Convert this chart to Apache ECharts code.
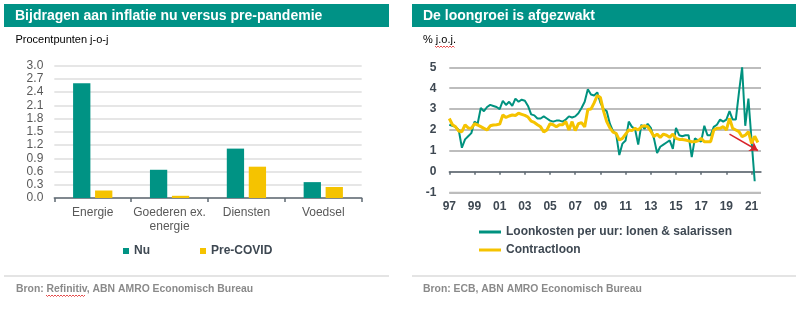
<!DOCTYPE html>
<html>
<head>
<meta charset="utf-8">
<script src="https://cdn.jsdelivr.net/npm/echarts@6/dist/echarts.min.js"></script>
<style>
  html, body { margin: 0; padding: 0; background: #ffffff; }
  #chart { width: 804px; height: 324px; }
</style>
</head>
<body>
<div id="chart"></div>
<script>
// ---- Left panel: contributions to inflation, now vs pre-pandemic ----
const categories = ['Energie', 'Goederen ex.\nenergie', 'Diensten', 'Voedsel'];
const nuValues = [2.6, 0.64, 1.12, 0.36];
const preCovidValues = [0.17, 0.05, 0.71, 0.25];

// ---- Right panel: wage growth, % y-o-y, quarterly from 1997 ----
const firstYear = 1997;
const lastYear = 2021;
const yearLabels = ['97', '99', '01', '03', '05', '07', '09', '11', '13', '15', '17', '19', '21'];
const wageAxisMin = -1;
const wageAxisMax = 5;

const loonkosten = [
  2.25, 2.2, 2.15, 2.0,     // 1997
  1.15, 1.55, 1.7, 1.85,    // 1998
  2.4, 2.3, 3.05, 2.9,      // 1999
  3.1, 3.2, 3.15, 3.1,      // 2000
  3.0, 3.4, 3.2, 3.35,      // 2001
  3.15, 3.5, 3.35, 3.45,    // 2002
  3.4, 3.15, 2.75, 2.7,     // 2003
  2.55, 2.55, 2.65, 2.55,   // 2004
  2.45, 2.4, 2.45, 2.45,    // 2005
  2.4, 2.5, 2.65, 2.6,      // 2006
  2.65, 2.8, 3.05, 3.35,    // 2007
  3.95, 3.7, 3.65, 3.8,     // 2008
  3.3, 3.0, 2.9, 2.3,       // 2009
  1.95, 1.8, 0.8, 1.35,     // 2010
  1.5, 2.4, 2.15, 2.05,     // 2011
  1.3, 2.25, 2.05, 2.3,     // 2012
  2.1, 1.6, 0.9, 1.2,       // 2013
  1.3, 1.4, 1.5, 1.1,       // 2014
  2.1, 1.75, 1.7, 1.75,     // 2015
  1.75, 0.7, 1.6, 1.5,      // 2016
  1.45, 2.2, 1.75, 1.75,    // 2017
  2.15, 2.25, 2.5, 2.4,     // 2018
  2.5, 2.9, 2.5, 2.5,       // 2019
  3.8, 5.0, 2.2, 3.5,       // 2020
  1.5, -0.45                // 2021
];

const contractloon = [
  2.55, 2.25, 2.15, 1.95,   // 1997
  1.92, 2.25, 2.1, 2.08,    // 1998
  2.3, 2.24, 2.16, 2.08,    // 1999
  2.0, 2.2, 2.24, 2.25,     // 2000
  2.28, 2.72, 2.6, 2.67,    // 2001
  2.72, 2.69, 2.8, 2.75,    // 2002
  2.7, 2.62, 2.42, 2.36,    // 2003
  2.25, 2.15, 1.9, 2.0,     // 2004
  2.3, 2.25, 2.15, 2.25,    // 2005
  2.25, 2.4, 2.0, 2.4,      // 2006
  1.97, 2.3, 2.35, 2.15,    // 2007
  2.98, 3.0, 3.3, 3.65,     // 2008
  3.55, 2.9, 2.4, 2.1,      // 2009
  1.9, 1.84, 1.52, 1.6,     // 2010
  1.8, 2.0, 1.97, 2.08,     // 2011
  2.0, 2.16, 2.2, 2.16,     // 2012
  1.95, 1.68, 1.8, 1.65,    // 2013
  1.8, 1.75, 1.65, 1.8,     // 2014
  1.6, 1.55, 1.55, 1.52,    // 2015
  1.48, 1.44, 1.44, 1.48,   // 2016
  1.6, 1.44, 1.44, 1.44,    // 2017
  2.0, 2.08, 2.08, 2.16,    // 2018
  2.0, 2.56, 2.08, 2.0,     // 2019
  1.92, 1.68, 1.75, 1.92,   // 2020
  1.36, 1.7, 1.4            // 2021
];

// quarter categories 1997K1 ... 2021K4
const quarters = [];
for (let y = firstYear; y <= lastYear; y++) {
  for (let q = 1; q <= 4; q++) quarters.push(y + 'K' + q);
}

const FONT = 'Liberation Sans, Arial, sans-serif';
const GREEN = '#00927F';
const YELLOW = '#F5C300';
const BAR_GREEN = '#009384';
const DARK_TEXT = '#3E4852';
const GRID_GREY = '#bdbdbd';

// plot areas of the two panels
const barGrid = { left: 54.3, right: 442.3, top: 65.7, bottom: 126 };
const wageGrid = { left: 449.3, right: 43, top: 67.3, bottom: 131.3 };

// small wavy underline (spell-check style) drawn as a polyline
function squiggle(x0, x1, y) {
  const pts = [];
  let up = true;
  for (let x = x0; x <= x1; x += 1.5) {
    pts.push([x, up ? y : y + 1.5]);
    up = !up;
  }
  return {
    type: 'polyline',
    silent: true,
    shape: { points: pts },
    style: { stroke: '#e02020', lineWidth: 0.8, fill: null }
  };
}

const chart = echarts.init(document.getElementById('chart'));
const W = chart.getWidth();
const H = chart.getHeight();

chart.setOption({
  animation: false,
  backgroundColor: '#ffffff',
  textStyle: { fontFamily: FONT },
  graphic: [
    { type: 'rect', silent: true, shape: { x: 4, y: 4, width: 385, height: 23 }, style: { fill: '#009286' } },
    { type: 'rect', silent: true, shape: { x: 412, y: 4, width: 384, height: 23 }, style: { fill: '#009286' } },
    { type: 'line', silent: true, shape: { x1: 4, y1: 276, x2: 389, y2: 276 }, style: { stroke: '#c9c9c9', lineWidth: 1 } },
    { type: 'line', silent: true, shape: { x1: 412, y1: 276, x2: 796, y2: 276 }, style: { stroke: '#c9c9c9', lineWidth: 1 } },
    // bottom edge of the wage plot area (the -1 gridline)
    { type: 'line', silent: true, z: 100,
      shape: { x1: wageGrid.left, y1: H - wageGrid.bottom, x2: W - wageGrid.right, y2: H - wageGrid.bottom },
      style: { stroke: GRID_GREY, lineWidth: 2 } },
    squiggle(435, 455, 46),
    squiggle(46, 86, 295)
  ],
  title: [
    { text: 'Bijdragen aan inflatie nu versus pre-pandemie', left: 15, top: 9, padding: 0,
      textStyle: { color: '#ffffff', fontSize: 14, fontWeight: 'bold', fontFamily: FONT } },
    { text: 'De loongroei is afgezwakt', left: 423, top: 9, padding: 0,
      textStyle: { color: '#ffffff', fontSize: 14, fontWeight: 'bold', fontFamily: FONT } },
    { text: 'Procentpunten j-o-j', left: 15.5, top: 34, padding: 0,
      textStyle: { color: '#000000', fontSize: 11, fontWeight: 'normal', fontFamily: FONT } },
    { text: '% j.o.j.', left: 423, top: 34, padding: 0,
      textStyle: { color: '#000000', fontSize: 11, fontWeight: 'normal', fontFamily: FONT } },
    { text: 'Bron: Refinitiv, ABN AMRO Economisch Bureau', left: 16, top: 284.5, padding: 0,
      textStyle: { color: '#8a8a8a', fontSize: 10.4, fontWeight: 'bold', fontFamily: FONT } },
    { text: 'Bron: ECB, ABN AMRO Economisch Bureau', left: 423, top: 284.5, padding: 0,
      textStyle: { color: '#8a8a8a', fontSize: 10.4, fontWeight: 'bold', fontFamily: FONT } }
  ],
  legend: [
    {
      data: ['Nu', 'Pre-COVID'],
      left: 123, top: 245, padding: 0,
      icon: 'rect', itemWidth: 6, itemHeight: 6, itemGap: 50,
      selectedMode: false,
      textStyle: { color: DARK_TEXT, fontSize: 12, fontWeight: 'bold', fontFamily: FONT }
    },
    {
      data: ['Loonkosten per uur: lonen & salarissen', 'Contractloon'],
      orient: 'vertical',
      left: 479, top: 226, padding: 0,
      icon: 'rect', itemWidth: 22, itemHeight: 3, itemGap: 6,
      selectedMode: false,
      textStyle: { color: DARK_TEXT, fontSize: 12, fontWeight: 'bold', fontFamily: FONT }
    }
  ],
  grid: [barGrid, wageGrid],
  xAxis: [
    {
      type: 'category', gridIndex: 0, data: categories,
      axisLine: { lineStyle: { color: '#5f6a73', width: 1.5 } },
      axisTick: { show: true, length: 4, lineStyle: { color: '#5f6a73', width: 1.5 } },
      axisLabel: { interval: 0, color: '#595959', fontSize: 12, margin: 8, lineHeight: 14, fontFamily: FONT }
    },
    {
      // year labels at the bottom of the wage chart
      type: 'category', gridIndex: 1, data: quarters, boundaryGap: false, position: 'bottom',
      axisLine: { show: false, onZero: false },
      axisTick: { show: false },
      axisLabel: {
        interval: 7, margin: 8, color: DARK_TEXT, fontSize: 12, fontWeight: 'bold', fontFamily: FONT,
        formatter: (val, idx) => yearLabels[Math.round(idx / 8)]
      },
      splitLine: { show: false }
    },
    {
      // zero line of the wage chart, with ticks
      type: 'category', gridIndex: 1, data: quarters, boundaryGap: false, position: 'bottom',
      axisLine: { show: true, onZero: true, lineStyle: { color: '#5f6a73', width: 1.5 } },
      axisTick: { show: true, interval: 7, length: 3, lineStyle: { color: '#5f6a73', width: 1.5 } },
      axisLabel: { show: false },
      splitLine: { show: false }
    }
  ],
  yAxis: [
    {
      type: 'value', gridIndex: 0, min: 0, max: 3, interval: 0.3,
      axisLine: { show: false }, axisTick: { show: false },
      axisLabel: { color: '#595959', fontSize: 12, margin: 11, fontFamily: FONT,
        formatter: v => v.toFixed(1) },
      splitLine: { lineStyle: { color: '#dedede', width: 1.5 } }
    },
    {
      type: 'value', gridIndex: 1, min: wageAxisMin, max: wageAxisMax, interval: 1,
      axisLine: { show: false }, axisTick: { show: false },
      axisLabel: { color: DARK_TEXT, fontSize: 12, fontWeight: 'bold', margin: 13, fontFamily: FONT },
      splitLine: { lineStyle: { color: GRID_GREY, width: 2 } }
    }
  ],
  series: [
    {
      name: 'Nu', type: 'bar', xAxisIndex: 0, yAxisIndex: 0,
      data: nuValues, color: BAR_GREEN, barWidth: 17.3, barGap: '27%'
    },
    {
      name: 'Pre-COVID', type: 'bar', xAxisIndex: 0, yAxisIndex: 0,
      data: preCovidValues, color: YELLOW, barWidth: 17.3, barGap: '27%'
    },
    {
      name: 'Loonkosten per uur: lonen & salarissen', type: 'line', xAxisIndex: 2, yAxisIndex: 1,
      data: loonkosten, color: GREEN, showSymbol: false, symbol: 'none',
      lineStyle: { width: 2, color: GREEN }, z: 3
    },
    {
      name: 'Contractloon', type: 'line', xAxisIndex: 2, yAxisIndex: 1,
      data: contractloon, color: YELLOW, showSymbol: false, symbol: 'none',
      lineStyle: { width: 3, color: YELLOW }, z: 4,
      markLine: {
        silent: true, animation: false,
        symbol: ['none', 'arrow'], symbolSize: 8,
        label: { show: false },
        lineStyle: { color: '#d9232a', width: 1.5, type: 'solid' },
        data: [[{ coord: ['2019K2', 1.8] }, { coord: ['2021K3', 1.02] }]]
      }
    }
  ]
});
</script>
</body>
</html>
